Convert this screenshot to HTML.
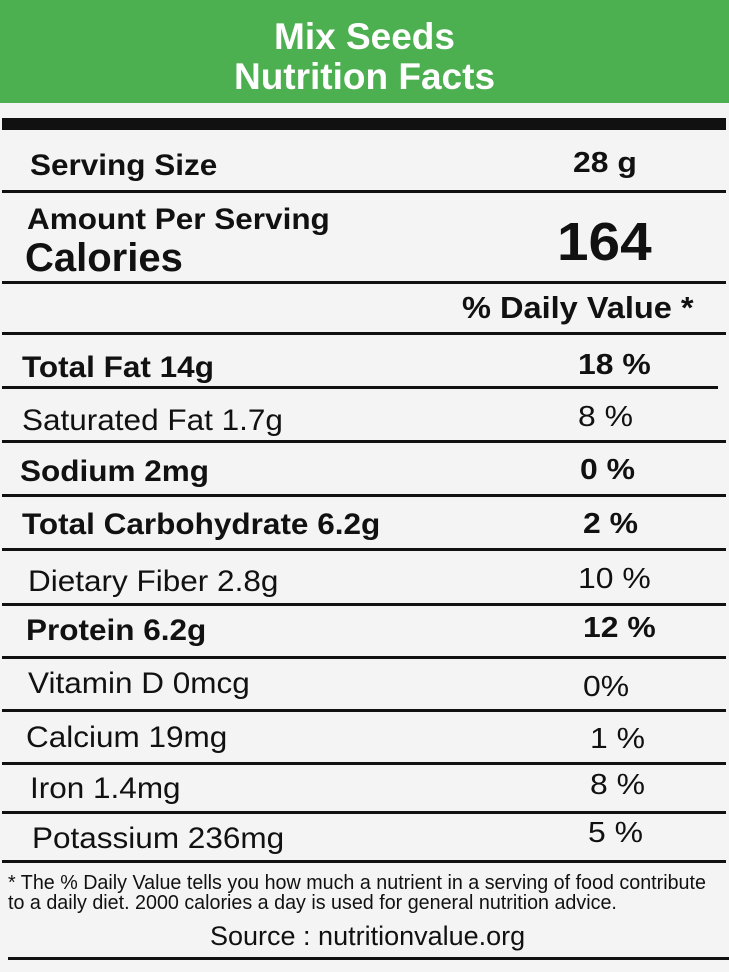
<!DOCTYPE html>
<html><head><meta charset="utf-8"><style>
body{margin:0;width:729px;height:972px;background:#f4f4f4;position:relative;overflow:hidden;font-family:"Liberation Sans",sans-serif;color:#111}
.h{position:absolute;left:0;top:0;width:729px;height:103px;background:#4caf50;color:#fff;font-weight:bold;font-size:37px;text-align:center;line-height:40px;padding-top:17px;box-sizing:border-box}
.l{position:absolute;height:3px;background:#111}
.t{position:absolute;white-space:nowrap;transform-origin:left top;transform:scaleX(1.05)}
.r{font-size:30px}
.p{font-size:29px;transform:scaleX(1.1)}
.b{font-weight:bold}
</style></head><body>
<div class="h">Mix Seeds<br>Nutrition Facts</div>
<div class="l" style="left:2px;top:118px;width:724px;height:12px"></div>
<div class="t b r" style="left:30px;top:149px">Serving Size</div>
<div class="t b p" style="left:573px;top:147px">28 g</div>
<div class="l" style="left:2px;top:190px;width:724px"></div>
<div class="t b r" style="left:27px;top:203px">Amount Per Serving</div>
<div class="t b" style="left:25px;top:236px;font-size:40px;transform:scaleX(1)">Calories</div>
<div class="t b" style="left:557px;top:211px;font-size:54px">164</div>
<div class="l" style="left:2px;top:281px;width:724px"></div>
<div class="t b" style="left:462px;top:290px;font-size:31px">% Daily Value *</div>
<div class="l" style="left:2px;top:332px;width:724px"></div>

<div class="t b r" style="left:22px;top:351px">Total Fat 14g</div>
<div class="t b p" style="left:578px;top:349px">18 %</div>
<div class="l" style="left:2px;top:386px;width:716px"></div>
<div class="t r" style="left:22px;top:404px">Saturated Fat 1.7g</div>
<div class="t p" style="left:578px;top:401px">8 %</div>
<div class="l" style="left:2px;top:440px;width:724px"></div>
<div class="t b r" style="left:20px;top:455px">Sodium 2mg</div>
<div class="t b p" style="left:580px;top:454px">0 %</div>
<div class="l" style="left:2px;top:494px;width:724px"></div>
<div class="t b r" style="left:22px;top:508px">Total Carbohydrate 6.2g</div>
<div class="t b p" style="left:583px;top:508px">2 %</div>
<div class="l" style="left:2px;top:548px;width:724px"></div>
<div class="t r" style="left:28px;top:565px">Dietary Fiber 2.8g</div>
<div class="t p" style="left:578px;top:563px">10 %</div>
<div class="l" style="left:2px;top:603px;width:724px"></div>
<div class="t b r" style="left:26px;top:614px">Protein 6.2g</div>
<div class="t b p" style="left:583px;top:612px">12 %</div>
<div class="l" style="left:2px;top:656px;width:724px"></div>
<div class="t r" style="left:28px;top:667px">Vitamin D 0mcg</div>
<div class="t p" style="left:583px;top:671px">0%</div>
<div class="l" style="left:2px;top:709px;width:724px"></div>
<div class="t r" style="left:26px;top:721px">Calcium 19mg</div>
<div class="t p" style="left:590px;top:723px">1 %</div>
<div class="l" style="left:2px;top:762px;width:724px"></div>
<div class="t r" style="left:30px;top:772px">Iron 1.4mg</div>
<div class="t p" style="left:590px;top:769px">8 %</div>
<div class="l" style="left:2px;top:811px;width:724px"></div>
<div class="t r" style="left:32px;top:822px">Potassium 236mg</div>
<div class="t p" style="left:588px;top:817px">5 %</div>
<div class="l" style="left:2px;top:860px;width:724px"></div>
<div class="t" style="left:8px;top:873px;font-size:20px;line-height:20px;transform:scaleX(0.985)">* The % Daily Value tells you how much a nutrient in a serving of food contribute<br>to a daily diet. 2000 calories a day is used for general nutrition advice.</div>
<div class="t" style="left:210px;top:921px;font-size:27px;transform:scaleX(1)">Source : nutritionvalue.org</div>
<div class="l" style="left:8px;top:957px;width:721px"></div>
</body></html>
